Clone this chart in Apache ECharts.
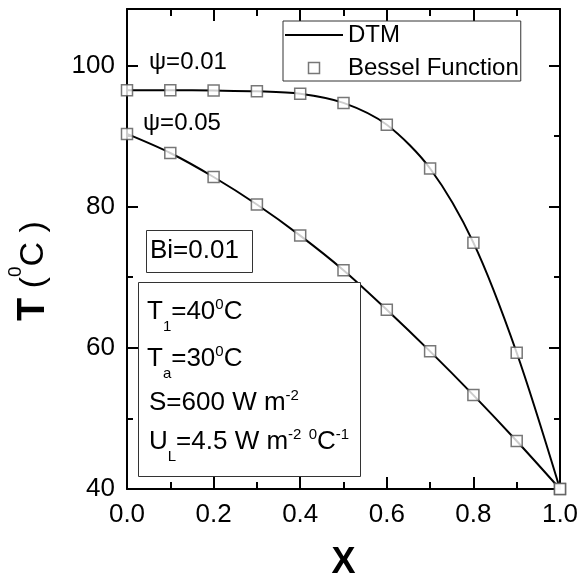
<!DOCTYPE html>
<html>
<head>
<meta charset="utf-8">
<script src="https://cdn.jsdelivr.net/npm/echarts@6/dist/echarts.min.js"></script>
<style>html,body{margin:0;padding:0;background:#fff}#c{width:582px;height:580px}</style>
</head>
<body>
<div id="c"></div>
<script>
// ---- data ----
const xValues = [0.0, 0.1, 0.2, 0.3, 0.4, 0.5, 0.6, 0.7, 0.8, 0.9, 1.0];
const psi001 = [96.5, 96.5, 96.45, 96.35, 96.0, 94.7, 91.6, 85.4, 74.9, 59.3, 40.0];
const psi005 = [90.3, 87.6, 84.2, 80.3, 75.9, 71.0, 65.4, 59.5, 53.3, 46.8, 40.0];
const xTickLabels = ['0.0', '0.2', '0.4', '0.6', '0.8', '1.0'];
const yTickLabels = ['40', '60', '80', '100'];
const seriesNames = ['DTM', 'Bessel Function'];
const curveLabels = ['\u03c8=0.01', '\u03c8=0.05'];

const FONT = '"Liberation Sans", Arial, sans-serif';
const pairs = ys => xValues.map((x, i) => [x, ys[i]]);

const ctx = document.createElement('canvas').getContext('2d');
function tw(t, size, weight) {
  ctx.font = (weight || 'normal') + ' ' + size + 'px ' + FONT;
  return ctx.measureText(t).width;
}
function txt(x, y, t, size, weight, align) {
  return {
    type: 'text', x: x, y: y, silent: true,
    style: {
      text: t, fill: '#000', fontSize: size, fontFamily: FONT, fontWeight: weight || 'normal',
      align: align || 'left', verticalAlign: 'middle', textAlign: align || 'left', textVerticalAlign: 'middle'
    }
  };
}
// pieces: [text, kind]; kind n = normal, sub, sup
function richLine(x0, y, pieces, sizes, subDy, supDy, weights) {
  let x = x0; const out = [];
  pieces.forEach(([t, k], i) => {
    const size = sizes[k];
    const dy = k === 'sub' ? subDy : (k === 'sup' ? supDy : 0);
    const wt = (weights && weights[i]) || 'normal';
    out.push(txt(x, y + dy, t, size, wt));
    x += tw(t, size, wt);
  });
  return out;
}

const tickLabelFmtY = v => (yTickLabels.indexOf(String(v)) >= 0 ? String(v) : '');
const tickLabelFmtX = v => { const s = (Math.round(v * 10) / 10).toFixed(1); return xTickLabels.indexOf(s) >= 0 ? s : ''; };

const axisLine = { show: true, onZero: false, lineStyle: { color: '#000', width: 2 } };
const majorTickY = { show: true, inside: true, length: 11, lineStyle: { color: '#000', width: 2 } };
const minorTickY = { show: true, inside: true, length: 6, lineStyle: { color: '#000', width: 2 } };

function yAx(pos, interval, tick, labels, line) {
  return {
    type: 'value', position: pos, min: 40, max: 108, interval: interval,
    axisLine: line ? axisLine : { show: false, onZero: false },
    axisTick: tick,
    axisLabel: labels ? { show: true, formatter: tickLabelFmtY, fontSize: 26, color: '#000', fontFamily: FONT, margin: 12, showMaxLabel: false } : { show: false },
    splitLine: { show: false }
  };
}
function xAx(pos, labels) {
  return {
    type: 'value', position: pos, min: 0, max: 1, interval: 0.2,
    axisLine: axisLine,
    axisTick: { show: true, inside: true, length: 12, lineStyle: { color: '#000', width: 2 } },
    minorTick: { show: true, splitNumber: 2, length: 7, lineStyle: { color: '#000', width: 2 } },
    axisLabel: labels ? { show: true, formatter: tickLabelFmtX, fontSize: 26, color: '#000', fontFamily: FONT, margin: 13 } : { show: false },
    splitLine: { show: false }, minorSplitLine: { show: false },
    name: labels ? 'X' : '', nameLocation: 'middle', nameGap: 56,
    nameTextStyle: { fontSize: 36, fontWeight: 'bold', color: '#000', fontFamily: FONT }
  };
}

const markerStyle = { color: '#fff', borderColor: '#555', borderWidth: 1.5 };
const lineSeries = (ys) => ({
  type: 'line', name: seriesNames[0], data: pairs(ys), xAxisIndex: 0, yAxisIndex: 0,
  symbol: 'none', showSymbol: false, smooth: 0.3,
  lineStyle: { color: '#000', width: 2 }, itemStyle: { color: '#000' }, z: 2
});
const markerSeries = (ys) => ({
  type: 'scatter', name: seriesNames[1], data: pairs(ys), xAxisIndex: 0, yAxisIndex: 0,
  symbol: 'rect', symbolSize: 11, itemStyle: markerStyle, z: 3
});

// annotation graphics
const graphics = [];
graphics.push(txt(149, 62, curveLabels[0], 24));
graphics.push(txt(143, 123, curveLabels[1], 24));
graphics.push({ type: 'rect', shape: { x: 146.5, y: 230.5, width: 106, height: 42 }, style: { fill: 'none', stroke: '#333', lineWidth: 1 }, silent: true });
graphics.push(txt(150, 251, 'Bi=0.01', 26));
graphics.push({ type: 'rect', shape: { x: 138.5, y: 282.5, width: 222, height: 194 }, style: { fill: '#fff', stroke: '#333', lineWidth: 1 }, silent: true, z: 10 });
const paramLines = [
  [147, 312, [['T', 'n'], ['1', 'sub'], ['=40', 'n'], ['0', 'sup'], ['C', 'n']]],
  [147, 359, [['T', 'n'], ['a', 'sub'], ['=30', 'n'], ['0', 'sup'], ['C', 'n']]],
  [149, 403, [['S=600 W m', 'n'], ['-2', 'sup']]],
  [149, 442, [['U', 'n'], ['L', 'sub'], ['=4.5 W m', 'n'], ['-2', 'sup'], [' ', 'n'], ['0', 'sup'], ['C', 'n'], ['-1', 'sup']]]
];
paramLines.forEach(([x, y, p]) => richLine(x, y, p, { n: 26, sub: 15, sup: 15 }, 15, -7).forEach(e => { e.z = 11; graphics.push(e); }));

// rotated y-axis title "T (0C )"
const yTitleChildren = richLine(0, 0,
  [['T', 'n0'], [' (', 'n'], ['0', 'sup'], ['C', 'n'], [' )', 'n']],
  { n0: 38, n: 34, sup: 19 }, 0, -18, ['bold']);
graphics.push({ type: 'group', x: 34, y: 321, rotation: Math.PI / 2, children: yTitleChildren, silent: true });

const chart = echarts.init(document.getElementById('c'), null, { renderer: 'canvas' });
chart.setOption({
  animation: false,
  backgroundColor: '#fff',
  grid: { left: 127, right: 22, top: 9, bottom: 91, containLabel: false, outerBoundsMode: 'none' },
  xAxis: [xAx('bottom', true), xAx('top', false)],
  yAxis: [
    yAx('left', 20, majorTickY, true, true),
    yAx('left', 10, minorTickY, false, false),
    yAx('right', 20, majorTickY, false, true),
    yAx('right', 10, minorTickY, false, false)
  ],
  legend: {
    orient: 'vertical', left: 283, top: 21, padding: [2, 2, 1, 2], itemGap: 9,
    itemWidth: 58, itemHeight: 11, borderColor: '#333', borderWidth: 1, backgroundColor: '#fff',
    textStyle: { fontSize: 24, color: '#000', fontFamily: FONT },
    data: [
      { name: seriesNames[0], icon: 'path://M0,0H29V1.1H0Z', itemStyle: { color: '#000', borderWidth: 0 } },
      { name: seriesNames[1], icon: 'path://M0,0H10V10H0Z', itemStyle: markerStyle }
    ]
  },
  series: [lineSeries(psi001), lineSeries(psi005), markerSeries(psi001), markerSeries(psi005)],
  graphic: graphics
});
</script>
</body>
</html>
